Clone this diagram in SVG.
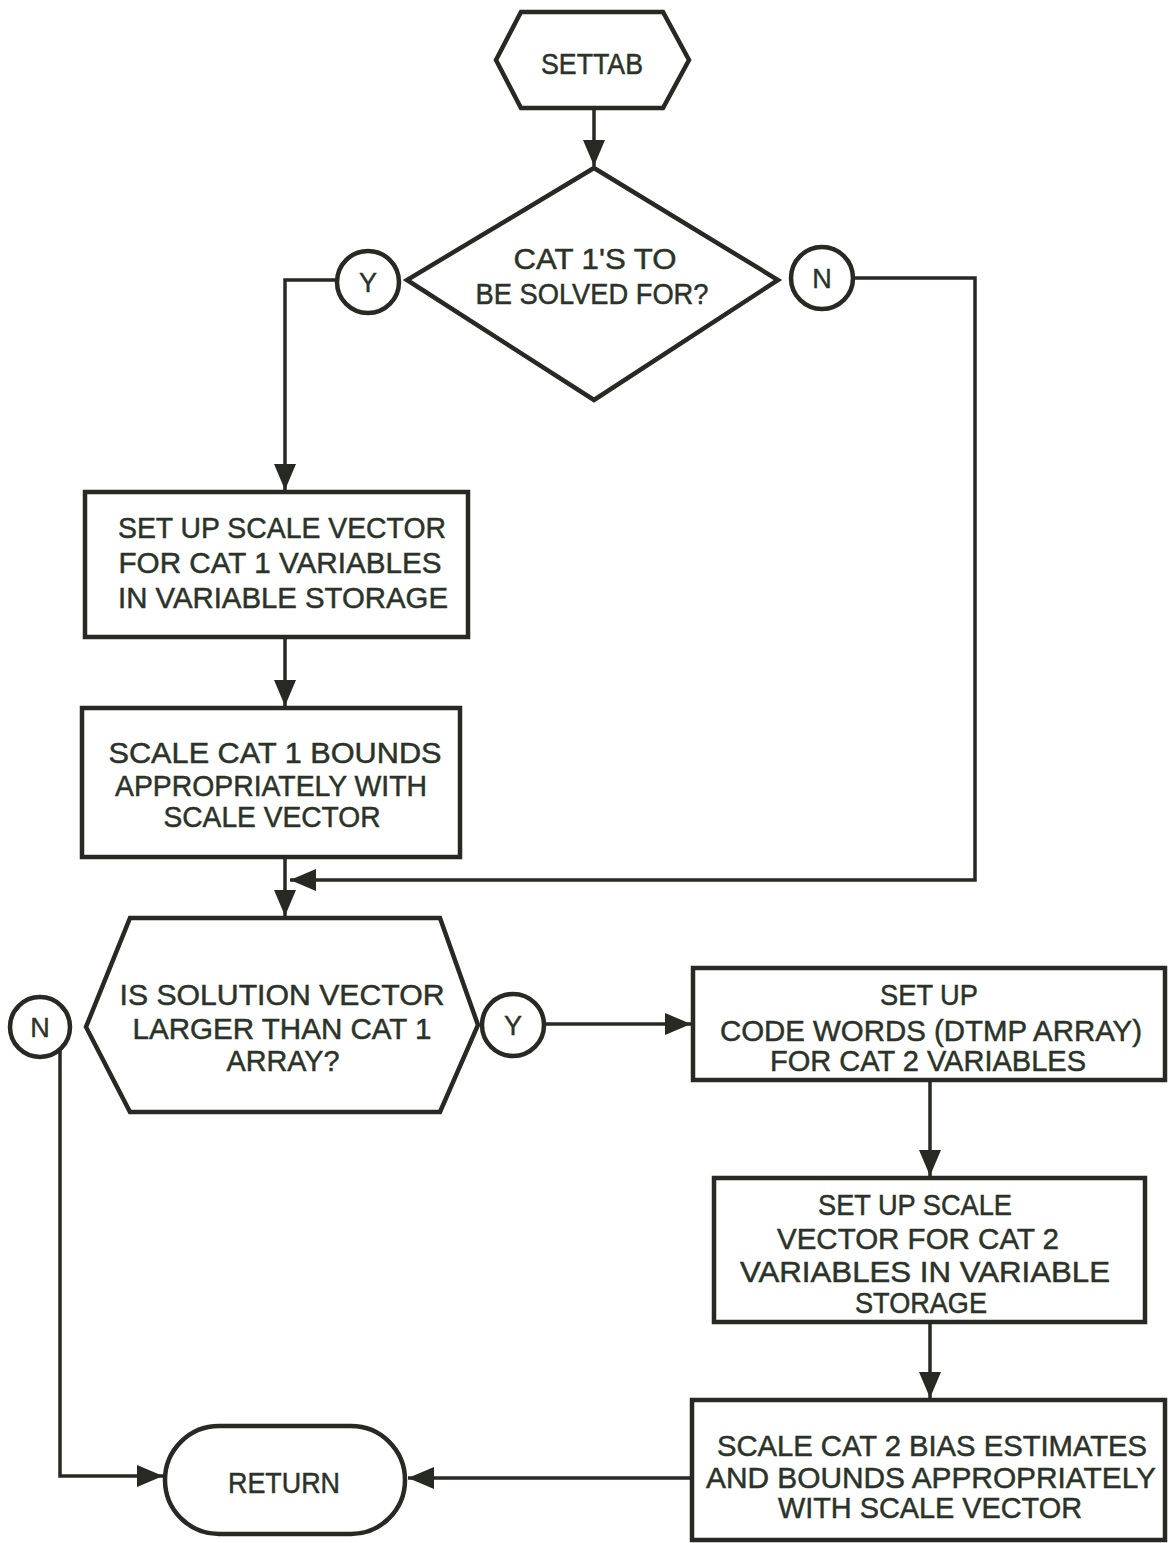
<svg xmlns="http://www.w3.org/2000/svg" width="1170" height="1543" viewBox="0 0 1170 1543">
  <style>
    .shape { fill: #ffffff; stroke: #262a22; stroke-width: 4.5; stroke-linejoin: miter; }
    .line { fill: none; stroke: #262a22; stroke-width: 3.5; }
    .lbl { font-family: "Liberation Sans", "DejaVu Sans", sans-serif; font-size: 30px; fill: #2b3328; stroke: #2b3328; stroke-width: 0.5; text-anchor: middle; }
    .yn { font-family: "Liberation Sans", "DejaVu Sans", sans-serif; font-size: 27px; fill: #2b3328; stroke: #2b3328; stroke-width: 0.4; text-anchor: middle; }
  </style>
  <defs>
    <marker id="arrow" markerUnits="userSpaceOnUse" markerWidth="28" markerHeight="28" viewBox="0 0 28 28" refX="26" refY="14" orient="auto">
      <path d="M0,3 L26,14 L0,25 Z" fill="#262a22"/>
    </marker>
  </defs>
  <rect width="1170" height="1543" fill="#ffffff"/>

  <!-- connectors -->
  <g id="connectors">
    <path class="line" d="M594,108 V166" marker-end="url(#arrow)"/>
    <path class="line" d="M337,280 H285 V490" marker-end="url(#arrow)"/>
    <path class="line" d="M853,278 H975 V880 H290" marker-end="url(#arrow)"/>
    <path class="line" d="M285,637 V706" marker-end="url(#arrow)"/>
    <path class="line" d="M285,857 V916" marker-end="url(#arrow)"/>
    <path class="line" d="M544,1024 H691" marker-end="url(#arrow)"/>
    <path class="line" d="M930,1080 V1176" marker-end="url(#arrow)"/>
    <path class="line" d="M930,1322 V1398" marker-end="url(#arrow)"/>
    <path class="line" d="M692,1478 H408" marker-end="url(#arrow)"/>
    <path class="line" d="M60,1050 V1476 H163" marker-end="url(#arrow)"/>
  </g>

  <!-- start -->
  <g id="settab">
    <polygon class="shape" points="521,12 663,12 689,60 663,108 521,108 496,60"/>
    <text class="lbl" x="592" y="74" textLength="102" lengthAdjust="spacingAndGlyphs">SETTAB</text>
  </g>

  <!-- first decision -->
  <g id="decision-cat1">
    <polygon class="shape" points="594,168 778,280 594,400 407,280"/>
    <text class="lbl" x="595" y="269" textLength="163" lengthAdjust="spacingAndGlyphs">CAT 1'S TO</text>
    <text class="lbl" x="592" y="304" textLength="233" lengthAdjust="spacingAndGlyphs">BE SOLVED FOR?</text>
  </g>
  <g id="decision-cat1-yes">
    <circle class="shape" cx="368" cy="282" r="31"/>
    <text class="yn" x="368" y="292">Y</text>
  </g>
  <g id="decision-cat1-no">
    <circle class="shape" cx="822" cy="278" r="31"/>
    <text class="yn" x="822" y="288">N</text>
  </g>

  <!-- cat 1 processing -->
  <g id="setup-scale-cat1">
    <rect class="shape" x="85" y="492" width="383" height="145"/>
    <text class="lbl" x="282" y="538" textLength="328" lengthAdjust="spacingAndGlyphs">SET UP SCALE VECTOR</text>
    <text class="lbl" x="280" y="573" textLength="323" lengthAdjust="spacingAndGlyphs">FOR CAT 1  VARIABLES</text>
    <text class="lbl" x="283" y="608" textLength="330" lengthAdjust="spacingAndGlyphs">IN VARIABLE STORAGE</text>
  </g>
  <g id="scale-bounds-cat1">
    <rect class="shape" x="82" y="708" width="378" height="149"/>
    <text class="lbl" x="275" y="763" textLength="333" lengthAdjust="spacingAndGlyphs">SCALE CAT 1 BOUNDS</text>
    <text class="lbl" x="271" y="796" textLength="312" lengthAdjust="spacingAndGlyphs">APPROPRIATELY WITH</text>
    <text class="lbl" x="272" y="827" textLength="217" lengthAdjust="spacingAndGlyphs">SCALE VECTOR</text>
  </g>

  <!-- second decision -->
  <g id="decision-size">
    <polygon class="shape" points="130,918 440,918 478,1025 440,1112 130,1112 86,1027"/>
    <text class="lbl" x="282" y="1005" textLength="325" lengthAdjust="spacingAndGlyphs">IS SOLUTION VECTOR</text>
    <text class="lbl" x="282" y="1039" textLength="299" lengthAdjust="spacingAndGlyphs">LARGER THAN CAT 1</text>
    <text class="lbl" x="283" y="1071" textLength="113" lengthAdjust="spacingAndGlyphs">ARRAY?</text>
  </g>
  <g id="decision-size-no">
    <circle class="shape" cx="40" cy="1027" r="30"/>
    <text class="yn" x="40" y="1037">N</text>
  </g>
  <g id="decision-size-yes">
    <circle class="shape" cx="513" cy="1025" r="31"/>
    <text class="yn" x="513" y="1035">Y</text>
  </g>

  <!-- cat 2 processing -->
  <g id="code-words-cat2">
    <rect class="shape" x="693" y="968" width="472" height="112"/>
    <text class="lbl" x="929" y="1005" textLength="98" lengthAdjust="spacingAndGlyphs">SET UP</text>
    <text class="lbl" x="931" y="1041" textLength="422" lengthAdjust="spacingAndGlyphs">CODE WORDS (DTMP ARRAY)</text>
    <text class="lbl" x="928" y="1071" textLength="316" lengthAdjust="spacingAndGlyphs">FOR CAT 2 VARIABLES</text>
  </g>
  <g id="setup-scale-cat2">
    <rect class="shape" x="714" y="1178" width="431" height="144"/>
    <text class="lbl" x="915" y="1215" textLength="194" lengthAdjust="spacingAndGlyphs">SET UP SCALE</text>
    <text class="lbl" x="918" y="1249" textLength="282" lengthAdjust="spacingAndGlyphs">VECTOR FOR CAT 2</text>
    <text class="lbl" x="925" y="1282" textLength="370" lengthAdjust="spacingAndGlyphs">VARIABLES IN VARIABLE</text>
    <text class="lbl" x="921" y="1313" textLength="132" lengthAdjust="spacingAndGlyphs">STORAGE</text>
  </g>
  <g id="scale-bias-cat2">
    <rect class="shape" x="692" y="1400" width="473" height="140"/>
    <text class="lbl" x="932" y="1456" textLength="430" lengthAdjust="spacingAndGlyphs">SCALE CAT 2 BIAS ESTIMATES</text>
    <text class="lbl" x="931" y="1488" textLength="450" lengthAdjust="spacingAndGlyphs">AND BOUNDS APPROPRIATELY</text>
    <text class="lbl" x="930" y="1518" textLength="304" lengthAdjust="spacingAndGlyphs">WITH SCALE VECTOR</text>
  </g>

  <!-- end -->
  <g id="return">
    <rect class="shape" x="165" y="1426" width="240" height="108" rx="54" ry="54"/>
    <text class="lbl" x="284" y="1493" textLength="112" lengthAdjust="spacingAndGlyphs">RETURN</text>
  </g>
</svg>
